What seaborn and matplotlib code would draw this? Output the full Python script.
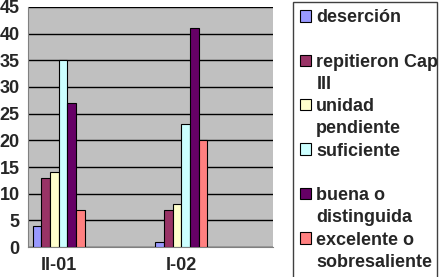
import matplotlib
matplotlib.use("Agg")
import matplotlib.pyplot as plt
import matplotlib.patches as mpatches
import seaborn as sns
import pandas as pd

# data
periodos = ["II-01", "I-02"]
slots = ["II-01", "gap1", "I-02", "gap2"]
tipos = ["deserción", "repitieron Cap III", "unidad pendiente", "suficiente",
         "buena o distinguida", "excelente o sobresaliente"]
# legend lines as drawn in the reference (two lines per entry)
lineas = [("deserción", "\u00a0"), ("repitieron Cap", "III"), ("unidad", "pendiente"),
          ("suficiente", "\u00a0"), ("buena o", "distinguida"), ("excelente o", "sobresaliente")]
ii_01 = [4, 13, 14, 35, 27, 7]
i_02 = [1, 7, 8, 23, 41, 20]
colores = ["#9999FF", "#993366", "#FFFFCC", "#CCFFFF", "#660066", "#FF8080"]

df = pd.DataFrame({
    "periodo": [periodos[0]] * 6 + [periodos[1]] * 6,
    "tipo": tipos + tipos,
    "n": ii_01 + i_02,
})

sns.set_style("white")
plt.rcParams["font.family"] = ["Liberation Sans", "DejaVu Sans"]

fig = plt.figure(figsize=(4.41, 2.77), dpi=100)
ax = fig.add_axes([0.0635, 0.108, 0.556, 0.867])
ax.set_facecolor("#C0C0C0")

sns.barplot(data=df, x="periodo", y="n", hue="tipo", order=slots, hue_order=tipos,
            palette=colores, width=0.85, edgecolor="black", linewidth=0.8,
            saturation=1, ax=ax, zorder=3)

ax.set_ylim(0, 45)
ax.set_xlim(-0.5, 3.5)
ax.set_yticks(range(0, 46, 5))
ax.yaxis.grid(True, color="black", linewidth=1, zorder=0)
ax.set_axisbelow(True)
ax.set_xlabel("")
ax.set_ylabel("")

# tick marks between slots, labels in the middle
ax.set_xticks([-0.5, 0.5, 1.5, 2.5, 3.5])
ax.set_xticklabels([])
ax.set_xticks([0, 1, 2, 3], minor=True)
ax.set_xticklabels(["II-01", "", "I-02", ""], minor=True)
ax.tick_params(axis="x", which="major", length=4, color="#808080", direction="out")
ax.tick_params(axis="x", which="minor", length=0, pad=7, labelsize=13)
ax.tick_params(axis="y", length=4, color="#808080", labelsize=13, pad=2)
for t in ax.get_xticklabels(minor=True) + ax.get_yticklabels():
    t.set_fontweight("bold")

for s in ax.spines.values():
    s.set_color("#808080")
ax.spines["top"].set_visible(False)
ax.spines["right"].set_visible(False)

# one legend row per text line, the colour box only on the first line
handles, _ = ax.get_legend_handles_labels()
ax.get_legend().remove()
filas_h, filas_t = [], []
for h, (l1, l2) in zip(handles, lineas):
    filas_h += [h, mpatches.Rectangle((0, 0), 1, 1, facecolor="none", edgecolor="none")]
    filas_t += [l1, l2]

leg = fig.legend(filas_h, filas_t, loc="upper left",
                 bbox_to_anchor=(0.664, 0.02, 0.327, 0.973), mode="expand",
                 prop=dict(weight="bold", size=13), frameon=True, fancybox=False,
                 edgecolor="#404040", framealpha=1, borderpad=0.4, labelspacing=0.29,
                 handlelength=0.6, handleheight=0.6, handletextpad=0.3, borderaxespad=0)
leg.get_frame().set_linewidth(1)

fig.savefig("out.png", dpi=100, facecolor="white")
